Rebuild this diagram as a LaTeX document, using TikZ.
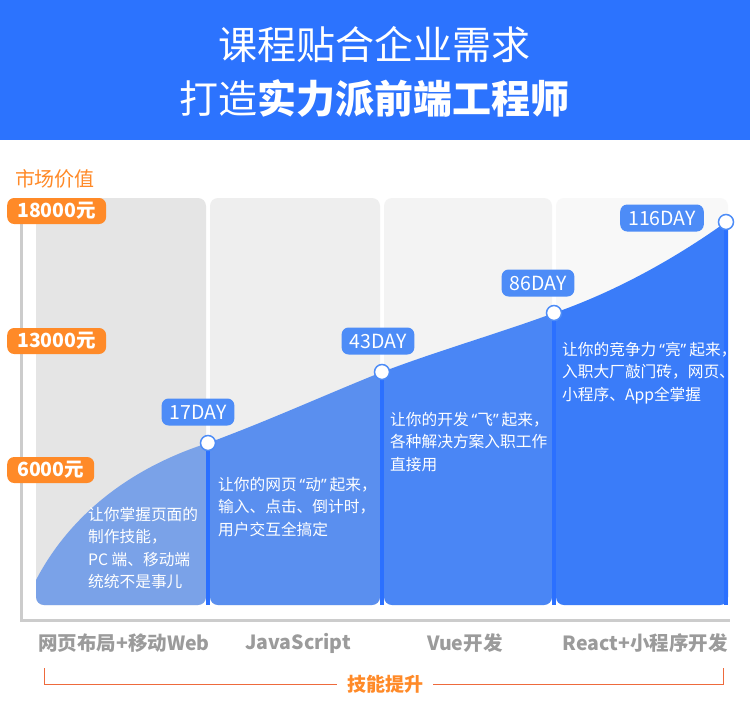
\documentclass[tikz,border=0pt]{standalone}
\usepackage{fontspec}
\setmainfont{Noto Sans CJK SC}
\newfontfamily\qfont{Noto Sans}
\newcommand\quoted[1]{{\qfont\kern3pt“}#1{\qfont”\kern3pt}}
\definecolor{headblue}{HTML}{2C73FE}
\definecolor{valorange}{HTML}{FF8A28}
\definecolor{braceorange}{HTML}{EE6A3C}
\definecolor{panelA}{HTML}{E5E5E5}
\definecolor{panelB}{HTML}{EEEEEE}
\definecolor{panelC}{HTML}{F3F3F3}
\definecolor{panelD}{HTML}{F8F8F8}
\definecolor{fillA}{HTML}{7AA2E8}
\definecolor{fillB}{HTML}{5A8FEF}
\definecolor{fillC}{HTML}{4A86F5}
\definecolor{fillD}{HTML}{3A7CF9}
\definecolor{sepblue}{HTML}{2B70FF}
\definecolor{dayblue}{HTML}{4D8CF7}
\definecolor{axisgray}{HTML}{CCCCCC}
\definecolor{labelgray}{HTML}{9B9B9B}
\tikzset{
  valuebox/.style={fill=valorange, text=white, rounded corners=7pt, inner xsep=10pt,
    minimum height=26pt, font=\fontsize{19.5}{19.5}\selectfont\bfseries},
  daybox/.style={fill=dayblue, text=white, rounded corners=7pt, inner xsep=8pt,
    minimum height=27pt, font=\fontsize{19.5}{19.5}\selectfont},
  dot/.style={circle, fill=white, draw=dayblue, line width=1.5pt, minimum size=15pt, inner sep=0pt},
  sepline/.style={sepblue, line width=3.5pt},
  desc/.style={text=white, anchor=north west, inner sep=0pt, align=left,
    font=\fontsize{15.7}{22.3}\selectfont},
  course/.style={text=labelgray, font=\fontsize{19.5}{19.5}\selectfont\bfseries},
}
\begin{document}
\begin{tikzpicture}[x=1pt,y=-1pt]
\useasboundingbox (0,0) rectangle (750,713);
\fill[white] (0,0) rectangle (750,713);

% header
\fill[headblue] (0,0) rectangle (750,140);
\node[text=white, font=\fontsize{39}{39}\selectfont] (title1) at (374,45) {课程贴合企业需求};
\node[text=white, font=\fontsize{39}{39}\selectfont] (title2) at (374,98) {打造{\bfseries 实力派前端工程师}};

\coordinate (p0) at (36,580);
\coordinate (p1) at (208,443);
\coordinate (p2) at (382,372);
\coordinate (p3) at (554,313);
\coordinate (p4) at (726,222);
\coordinate (bottom) at (0,605);

% panels and growth area
\foreach \xa/\xb/\g/\c in {36/206/panelA/fillA, 210/380/panelB/fillB, 384/552/panelC/fillC, 556/728/panelD/fillD}{
  \fill[\g, rounded corners=8pt] (\xa,198) rectangle (\xb,605);
  \begin{scope}
    \clip[rounded corners=8pt] (\xa,198) rectangle (\xb,605);
    \fill[\c] (p0) .. controls (70,515) and (130,468) .. (p1)
      .. controls (270,420) and (320,397) .. (p2)
      .. controls (440,350) and (500,333) .. (p3)
      .. controls (620,290) and (680,255) .. (p4)
      -- (740,222) -- (740,615) -- (20,615) -- (20,580) -- cycle;
  \end{scope}
}

\draw[sepline] (p1) -- (p1 |- bottom);
\draw[sepline] (p2) -- (p2 |- bottom);
\draw[sepline] (p3) -- (p3 |- bottom);
\draw[sepline] (p4) -- (p4 |- bottom);

\node[dot] (v1) at (p1) {};
\node[dot] (v2) at (p2) {};
\node[dot] (v3) at (p3) {};
\node[dot] (v4) at (p4) {};

\node[daybox] (d1) at (198,412) {17DAY};
\node[daybox] (d2) at (378,341) {43DAY};
\node[daybox] (d3) at (538,283) {86DAY};
\node[daybox] (d4) at (662,218) {116DAY};

\node[desc] (t1) at (88,507) {让你掌握页面的\\制作技能，\\PC 端、移动端\\统统不是事儿};
\node[desc] (t2) at (218,477) {让你的网页\quoted{动}起来，\\输入、点击、倒计时，\\用户交互全搞定};
\node[desc] (t3) at (390,412) {让你的开发\quoted{飞}起来，\\各种解决方案入职工作\\直接用};
\node[desc] (t4) at (562,342) {让你的竞争力\quoted{亮}起来，\\入职大厂敲门砖，网页、\\小程序、App全掌握};

% axes
\draw[axisgray, line width=3pt] (21,205) -- (21,620) -- (730,620);
\node[text=valorange, font=\fontsize{20}{20}\selectfont] (market) at (55,179) {市场价值};
\node[valuebox, anchor=west] (y1) at (7,211) {18000元};
\node[valuebox, anchor=west] (y2) at (7,341) {13000元};
\node[valuebox, anchor=west] (y3) at (7,470) {6000元};

% courses
\node[course] (c1) at (124,643) {网页布局+移动Web};
\node[course] (c2) at (298,643) {JavaScript};
\node[course] (c3) at (465,643) {Vue开发};
\node[course] (c4) at (645,643) {React+小程序开发};

\node[text=valorange, font=\fontsize{19}{19}\selectfont\bfseries, inner xsep=10pt] (skill) at (385,684) {技能提升};
\coordinate (bl) at (44,668);
\coordinate (br) at (723,668);
\draw[braceorange, line width=1pt] (bl) |- (skill.west);
\draw[braceorange, line width=1pt] (skill.east) -| (br);
\end{tikzpicture}
\end{document}
